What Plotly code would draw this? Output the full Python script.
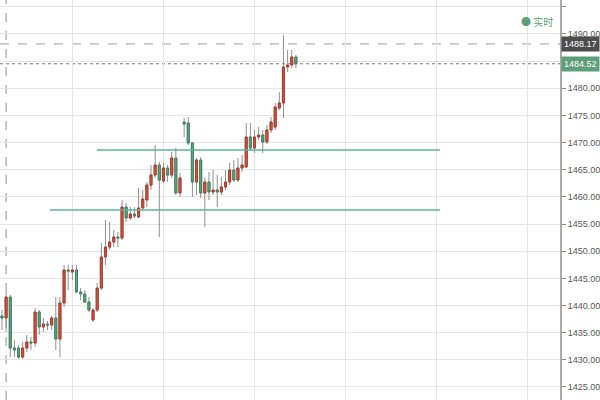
import plotly.graph_objects as go

# ---- data ----
opens = [1438.07, 1437.70, 1441.56, 1432.17, 1432.17, 1430.51, 1432.17, 1433.28, 1433.09, 1438.80,
         1436.04, 1436.59, 1436.41, 1437.70, 1433.83, 1440.46, 1446.54, 1446.17, 1446.54, 1442.49,
         1442.12, 1440.64, 1437.33, 1439.17, 1443.22, 1448.93, 1450.77, 1451.69, 1452.61, 1452.43,
         1458.14, 1456.11, 1456.85, 1456.30, 1457.95, 1459.43, 1462.19, 1464.03, 1465.87, 1462.93,
         1465.32, 1464.03, 1467.16, 1460.72, 1473.79, 1473.61, 1469.93, 1462.74, 1466.79, 1460.72,
         1462.74, 1460.90, 1461.27, 1460.90, 1461.82, 1462.74, 1464.95, 1463.11, 1465.32, 1465.51,
         1471.03, 1469.00, 1471.03, 1471.40, 1470.11, 1472.32, 1472.87, 1476.37, 1477.29, 1483.92,
         1484.29, 1485.76]
highs = [1439.17, 1442.49, 1441.93, 1433.65, 1432.72, 1433.28, 1434.57, 1434.20, 1439.54, 1439.17,
         1437.70, 1437.14, 1438.07, 1441.56, 1441.56, 1447.46, 1447.46, 1447.46, 1447.46, 1443.22,
         1442.85, 1441.56, 1439.54, 1444.14, 1451.51, 1455.74, 1455.38, 1453.90, 1453.53, 1459.43,
         1458.88, 1458.14, 1458.14, 1461.64, 1461.27, 1462.74, 1465.87, 1469.56, 1466.43, 1466.24,
         1465.87, 1468.27, 1469.00, 1464.40, 1474.53, 1474.71, 1470.11, 1467.16, 1467.35, 1463.48,
         1464.58, 1464.95, 1464.03, 1463.66, 1464.95, 1466.24, 1466.79, 1467.16, 1467.72, 1473.61,
         1473.61, 1472.32, 1472.87, 1472.32, 1473.24, 1474.71, 1477.29, 1479.32, 1489.81, 1487.05,
         1487.05, 1486.13]
lows = [1435.49, 1435.12, 1430.51, 1430.51, 1430.15, 1430.15, 1431.44, 1431.80, 1432.36, 1434.57,
        1435.12, 1435.49, 1435.49, 1431.80, 1430.51, 1439.72, 1442.85, 1444.70, 1442.30, 1441.01,
        1440.46, 1438.80, 1436.96, 1438.80, 1442.85, 1447.46, 1450.22, 1450.77, 1450.77, 1452.06,
        1455.38, 1455.74, 1456.11, 1456.11, 1457.59, 1458.14, 1461.27, 1463.48, 1452.61, 1462.56,
        1462.74, 1463.48, 1460.35, 1459.98, 1471.03, 1469.56, 1459.98, 1460.35, 1459.80, 1454.46,
        1459.43, 1460.35, 1458.14, 1460.35, 1461.27, 1462.19, 1462.74, 1462.74, 1464.58, 1465.32,
        1468.64, 1468.08, 1470.48, 1468.08, 1469.74, 1471.77, 1472.32, 1476.00, 1474.53, 1483.00,
        1483.74, 1483.74]
closes = [1437.70, 1441.56, 1432.17, 1431.80, 1430.51, 1432.17, 1433.28, 1433.09, 1438.80, 1436.04,
          1436.59, 1436.41, 1437.70, 1433.83, 1440.46, 1446.54, 1446.35, 1446.54, 1442.49, 1442.12,
          1440.64, 1439.17, 1439.17, 1443.22, 1448.93, 1450.77, 1451.69, 1452.61, 1452.43, 1458.14,
          1456.11, 1456.85, 1456.48, 1457.95, 1459.61, 1462.19, 1464.03, 1465.87, 1463.11, 1465.32,
          1464.03, 1467.16, 1460.72, 1463.48, 1473.42, 1469.93, 1462.74, 1466.79, 1460.72, 1462.74,
          1460.90, 1461.27, 1460.90, 1461.82, 1462.74, 1464.95, 1463.11, 1465.32, 1465.87, 1471.03,
          1469.00, 1471.03, 1471.40, 1470.11, 1472.32, 1473.79, 1476.55, 1477.29, 1483.92, 1484.29,
          1485.76, 1484.52]
xs = list(range(len(opens)))

y_ticks = [1425, 1430, 1435, 1440, 1445, 1450, 1455, 1460, 1465, 1470, 1475, 1480, 1485, 1490, 1495]
y_labels = ["1425.00", "1430.00", "1435.00", "1440.00", "1445.00", "1450.00", "1455.00", "1460.00",
            "1465.00", "1470.00", "1475.00", "1480.00", "", "1490.00", ""]
x_grid = [17, 39, 61, 83, 105, 127]

level_upper = 1468.64
level_upper_span = [22.9, 105.8]
level_lower = 1457.59
level_lower_span = [11.6, 105.8]
marker_high = 1488.17
last_price = 1484.52
cursor_x = 1
legend_text = "实时"

RED = "#d35440"
RED_EDGE = "#b03a2a"
GREEN = "#5ea67f"
GREEN_EDGE = "#3f8560"
WICK = "#8f8f8f"
FONT = "Arial, Liberation Sans, sans-serif"

fig = go.Figure()

# wicks (grey)
fig.add_trace(go.Candlestick(
    x=xs, open=opens, high=highs, low=lows, close=closes,
    increasing=dict(line=dict(color=WICK, width=1), fillcolor=RED),
    decreasing=dict(line=dict(color=WICK, width=1), fillcolor=GREEN),
    showlegend=False, hoverinfo="skip"))
# bodies
body_hi = [max(o, c) for o, c in zip(opens, closes)]
body_lo = [min(o, c) for o, c in zip(opens, closes)]
fig.add_trace(go.Candlestick(
    x=xs, open=opens, high=body_hi, low=body_lo, close=closes,
    increasing=dict(line=dict(color=RED_EDGE, width=1), fillcolor=RED),
    decreasing=dict(line=dict(color=GREEN_EDGE, width=1), fillcolor=GREEN),
    showlegend=False, hoverinfo="skip"))

# support / resistance lines
for lvl, span in [(level_upper, level_upper_span), (level_lower, level_lower_span)]:
    fig.add_trace(go.Scatter(x=span, y=[lvl, lvl], mode="lines",
                             line=dict(color="#5db39d", width=1.5),
                             showlegend=False, hoverinfo="skip"))

shapes = [
    dict(type="line", xref="paper", x0=0, x1=1, yref="y", y0=marker_high, y1=marker_high,
         line=dict(color="#9a9a9a", width=1, dash="dash"), layer="below"),
    dict(type="line", xref="paper", x0=0, x1=1, yref="y", y0=last_price, y1=last_price,
         line=dict(color="#7a7a7a", width=1, dash="dot"), layer="below"),
    dict(type="line", xref="x", x0=cursor_x, x1=cursor_x, yref="paper", y0=0, y1=1,
         line=dict(color="#b5b5b5", width=1.5, dash="dash"), layer="below"),
]

annotations = [
    dict(xref="paper", x=1, yref="y", y=marker_high, text=f"{marker_high:.2f}",
         showarrow=False, xanchor="left", xshift=1, bgcolor="#4d4d4d",
         font=dict(color="white", size=9, family=FONT), borderpad=2),
    dict(xref="paper", x=1, yref="y", y=last_price, text=f"{last_price:.2f}",
         showarrow=False, xanchor="left", xshift=1, bgcolor="#5e9f7b",
         font=dict(color="white", size=9, family=FONT), borderpad=2),
    dict(xref="paper", x=1, yref="paper", y=1, yshift=-21, xshift=-5,
         text="● " + legend_text, showarrow=False, xanchor="right", yanchor="middle",
         font=dict(color="#5e9f7b", size=10, family="Noto Sans CJK SC, sans-serif")),
]

fig.update_layout(
    width=600, height=400,
    margin=dict(l=0, r=40, t=0, b=0, autoexpand=False),
    paper_bgcolor="white", plot_bgcolor="white",
    shapes=shapes, annotations=annotations,
    xaxis=dict(range=[-0.48, 134.8], rangeslider=dict(visible=False), automargin=False,
               tickvals=x_grid, showticklabels=False, ticks="",
               showgrid=True, gridcolor="#e6e6e6", gridwidth=1, zeroline=False,
               showline=False),
    yaxis=dict(side="right", range=[1422.6, 1496.26], tickvals=y_ticks, ticktext=y_labels,
               automargin=False,
               showgrid=True, gridcolor="#e6e6e6", gridwidth=1, zeroline=False,
               showline=True, linecolor="#aaaaaa", linewidth=2,
               ticks="outside", ticklen=4, tickcolor="#888888",
               tickfont=dict(size=9, color="#555555", family=FONT)),
)

fig.write_html("out.html", config={"displayModeBar": False},
               post_script="document.body.style.margin='0';document.body.style.overflow='hidden';")
